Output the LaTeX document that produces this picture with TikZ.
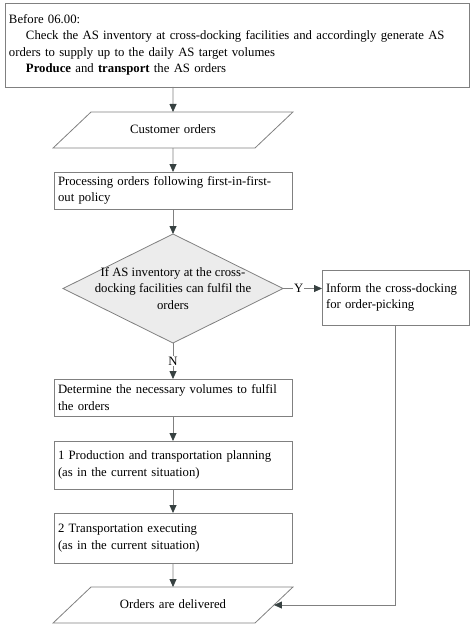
\documentclass[tikz,border=0pt]{standalone}
\usepackage{fontspec}
\setmainfont{Liberation Serif}
\usetikzlibrary{positioning,shapes.geometric,arrows.meta}
\definecolor{linegray}{RGB}{128,128,128}
\definecolor{tipgray}{RGB}{55,65,65}
\definecolor{decisionfill}{RGB}{236,236,236}

\begin{document}
\begin{tikzpicture}[>={Triangle[length=8pt,width=7pt,color=tipgray]},node distance=24.5pt,line width=0.8pt,
        font=\fontsize{12.75}{16.5}\selectfont,
        process/.style={rectangle,draw=linegray,inner xsep=4pt,inner ysep=0pt,outer sep=0pt,align=left},
        io/.style={trapezium,trapezium left angle=43.5,trapezium right angle=136.5,draw=linegray,text width=164pt,text height=9pt,text depth=3pt,inner xsep=0pt,inner ysep=12pt,outer sep=0pt,align=center},
        decision/.style={diamond,aspect=2,draw=linegray,fill=decisionfill,inner sep=-14pt,outer sep=0pt,minimum width=220pt,minimum height=109pt,align=center},
        answer/.style={fill=white,inner sep=1pt}]

                \useasboundingbox (0,0) rectangle (474pt,-628pt);

                \node[process, text width=456pt, minimum height=84pt] (before) at (237pt,-45pt) {Before 06.00:\\
                    \hspace*{17pt}Check the AS inventory at cross-docking facilities and accordingly generate AS\\
                    orders to supply up to the daily AS target volumes\\
                    \hspace*{17pt}\textbf{Produce} and \textbf{transport} the AS orders};
                \node[io] (orders) [below=25pt of before, xshift=-64pt] {Customer orders};
                \node[process, text width=230pt, minimum height=37pt] (fifo) [below=24pt of orders] {Processing orders following first-in-first-\\out policy};
                \node[decision] (check) [below=25pt of fifo] {If AS inventory at the cross-\\docking facilities can fulfil the\\orders};
                \node[process, text width=139pt, minimum height=55pt] (inform) [right=39pt of check, yshift=-9pt] {Inform the cross-docking\\for order-picking};
                \node[process, text width=230pt, minimum height=37pt] (volumes) [below=36pt of check] {Determine the necessary volumes to fulfil\\the orders};
                \node[process, text width=230pt, minimum height=48pt] (plan) [below=25pt of volumes] {1 Production and transportation planning\\(as in the current situation)};
                \node[process, text width=230pt, minimum height=50pt] (exec) [below=24pt of plan] {2 Transportation executing\\(as in the current situation)};
                \node[io] (delivered) [below=24pt of exec] {Orders are delivered};

                \path[->, every edge/.style={draw=linegray}]

                (before.south -| orders.north) edge (orders)
                (orders) edge (fifo)
                (fifo) edge (check)
                (check) edge node[answer, pos=0.4] {Y} (check.east -| inform.west)
                (check) edge node[answer] {N} (volumes)
                (volumes) edge (plan)
                (plan) edge (exec)
                (exec) edge (delivered)
            ;
                \draw[->, linegray] (inform.south) |- (delivered.east);
            \end{tikzpicture}
\end{document}
